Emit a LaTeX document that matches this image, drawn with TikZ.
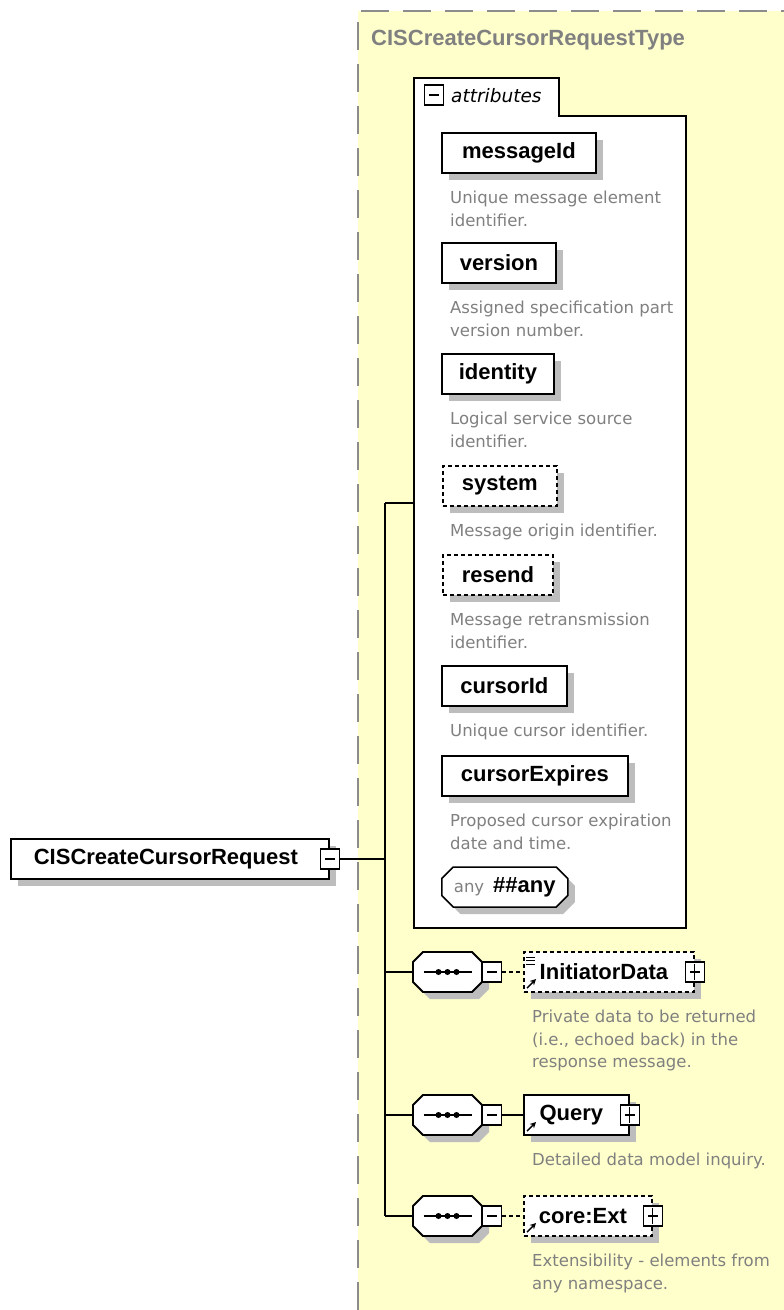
\documentclass[tikz,border=0pt]{standalone}
\usepackage{fontspec}
\setmainfont{Liberation Sans}
\newfontfamily\descfont{DejaVu Sans}[ItalicFont={DejaVu Sans Oblique}]
\usetikzlibrary{positioning,shapes.misc,shadows,arrows.meta}

\definecolor{typeyellow}{HTML}{FFFFCC}
\definecolor{framegray}{HTML}{8C8C8C}
\definecolor{textgray}{HTML}{808080}
\definecolor{shadowgray}{HTML}{BDBDBD}

\tikzset{
  boxshadow/.style={drop shadow={shadow xshift=7pt, shadow yshift=-7pt, fill=shadowgray, opacity=1}},
  elem/.style={draw, fill=white, line width=1.8pt, minimum height=40pt, inner sep=0pt,
    font=\bfseries\fontsize{22}{26}\selectfont, boxshadow},
  optional/.style={dash pattern=on 4pt off 3pt},
  desc/.style={anchor=north west, inner sep=0pt, align=left, text=textgray,
    font=\descfont\fontsize{16.5}{22.5}\selectfont},
  seqnode/.style={minimum width=69pt, minimum height=40pt, inner sep=0pt},
  toggle/.style={draw, fill=white, line width=1.3pt, minimum width=19pt, minimum height=20pt, inner sep=0pt},
  wire/.style={line width=2pt}
}

\newcommand{\minusbox}[2]{\node[toggle] (#1) at (#2) {};
  \draw[line width=1.3pt] ([xshift=-5pt]#1.center) -- ([xshift=5pt]#1.center);}
\newcommand{\plusbox}[2]{\minusbox{#1}{#2}
  \draw[line width=1.3pt] ([yshift=-8pt]#1.center) -- ([yshift=8pt]#1.center);}
% sequence compositor: octagon with the three dots
\newcommand{\seqbox}[2]{\node[seqnode] (#1) at (#2) {};
  \begin{scope}[shift={(#1.center)}]
    \draw[line width=1.8pt, fill=white, boxshadow] (-24.5,-20) -- (24.5,-20) -- (34.5,-10) -- (34.5,10)
      -- (24.5,20) -- (-24.5,20) -- (-34.5,10) -- (-34.5,-10) -- cycle;
    \draw[line width=1.6pt] (-24,0) -- (24,0);
    \foreach \dx in {-9,0,9} \fill (\dx,0) circle (3pt);
  \end{scope}}

\begin{document}
\begin{tikzpicture}[x=1pt, y=-1pt]
\useasboundingbox (0,0) rectangle (784,1310);

% complex type frame
\fill[typeyellow] (358,11) rectangle (784,1310);
\draw[framegray, line width=2pt, dash pattern=on 28pt off 14pt] (358,1310) -- (358,11) -- (784,11);
\node[anchor=west, inner sep=0pt, text=textgray, font=\bfseries\fontsize{22}{26}\selectfont] (typename) at (371,40) {CISCreateCursorRequestType};

% attributes group
\draw[line width=2.2pt, fill=white] (414,928) -- (414,78) -- (559,78) -- (559,116) -- (686,116) -- (686,928) -- cycle;
\minusbox{attrtoggle}{434,95}
\node[anchor=west, inner sep=0pt, font=\descfont\itshape\fontsize{18.5}{20}\selectfont] (attrlabel) at (451,96) {attributes};

% connectors
\coordinate (trunktop) at (385,503);
\coordinate (attrport) at (414,503);
\coordinate (trunkbot) at (385,1216);
\draw[wire] (trunktop) -- (attrport);
\draw[wire] (trunktop) -- (trunkbot);

% attributes
\node[elem, anchor=west, minimum width=154pt] (messageid) at (441,153) {messageId};
\node[desc, below right=17pt and 9pt of messageid.south west] (messageiddesc) {Unique message element\\identifier.};

\node[elem, anchor=west, minimum width=114pt] (version) at (441,263) {version};
\node[desc, below right=17pt and 9pt of version.south west] (versiondesc) {Assigned specification part\\version number.};

\node[elem, anchor=west, minimum width=112pt] (identity) at (441,374) {identity};
\node[desc, below right=17pt and 9pt of identity.south west] (identitydesc) {Logical service source\\identifier.};

\node[elem, optional, anchor=west, minimum width=114pt] (system) at (442,486) {system};
\node[desc, below right=17pt and 8pt of system.south west] (systemdesc) {Message origin identifier.};

\node[elem, optional, anchor=west, minimum width=110pt] (resend) at (442,575) {resend};
\node[desc, below right=17pt and 8pt of resend.south west] (resenddesc) {Message retransmission\\identifier.};

\node[elem, anchor=west, minimum width=125pt] (cursorid) at (441,686) {cursorId};
\node[desc, below right=17pt and 9pt of cursorid.south west] (cursoriddesc) {Unique cursor identifier.};

\node[elem, anchor=west, minimum width=186pt] (cursorexpires) at (441,776) {cursorExpires};
\node[desc, below right=17pt and 9pt of cursorexpires.south west] (cursorexpiresdesc) {Proposed cursor expiration\\date and time.};

\node[elem, chamfered rectangle, chamfered rectangle xsep=8pt, line width=1.5pt, anchor=west, minimum width=126pt] (anyattr) at (441,887)
  {{\descfont\mdseries\fontsize{16.5}{20}\selectfont\color{textgray}any}\hspace{9pt}\#\#any};

% root element
\node[elem, anchor=west, minimum width=318pt] (request) at (10,859) {CISCreateCursorRequest\hspace*{8pt}};
\minusbox{requesttoggle}{request.east}
\draw[wire] (requesttoggle.east) -- (requesttoggle.east -| trunktop);

% sequence 1
\seqbox{seqinit}{447.5,972}
\minusbox{seqinittoggle}{[xshift=10pt]seqinit.east}
\draw[wire] (seqinit.west -| trunktop) -- (seqinit.west);
\node[elem, optional, anchor=west, minimum width=170pt] (initiator) at (523,972) {\hspace*{6pt}InitiatorData\hspace*{16pt}};
\draw[wire, optional] (seqinittoggle) -- (initiator);
\plusbox{initiatortoggle}{initiator.east}
\foreach \dy in {-15,-11.5,-8} \draw[line width=1pt] ([shift={(3,\dy)}]initiator.west) -- ++(9,0);
\draw[line width=1.4pt, -{Stealth[length=6pt,width=6pt]}] ([shift={(4,16)}]initiator.west) -- ++(9,-9);
\node[desc, below right=17pt and 9pt of initiator.south west] (initiatordesc) {Private data to be returned\\(i.e., echoed back) in the\\response message.};

% sequence 2
\seqbox{seqquery}{447.5,1115}
\minusbox{seqquerytoggle}{[xshift=10pt]seqquery.east}
\draw[wire] (seqquery.west -| trunktop) -- (seqquery.west);
\node[elem, anchor=west, minimum width=105pt] (query) at (523,1115) {\hspace*{6pt}Query\hspace*{16pt}};
\draw[wire] (seqquerytoggle) -- (query);
\plusbox{querytoggle}{query.east}
\draw[line width=1.4pt, -{Stealth[length=6pt,width=6pt]}] ([shift={(4,16)}]query.west) -- ++(9,-9);
\node[desc, below right=17pt and 9pt of query.south west] (querydesc) {Detailed data model inquiry.};

% sequence 3
\seqbox{seqext}{447.5,1216}
\minusbox{seqexttoggle}{[xshift=10pt]seqext.east}
\draw[wire] (trunkbot) -- (seqext.west);
\node[elem, optional, anchor=west, minimum width=128pt] (coreext) at (523,1216) {\hspace*{6pt}core:Ext\hspace*{16pt}};
\draw[wire, optional] (seqexttoggle) -- (coreext);
\plusbox{coreexttoggle}{coreext.east}
\draw[line width=1.4pt, -{Stealth[length=6pt,width=6pt]}] ([shift={(4,16)}]coreext.west) -- ++(9,-9);
\node[desc, below right=17pt and 9pt of coreext.south west] (coreextdesc) {Extensibility - elements from\\any namespace.};
\end{tikzpicture}
\end{document}
